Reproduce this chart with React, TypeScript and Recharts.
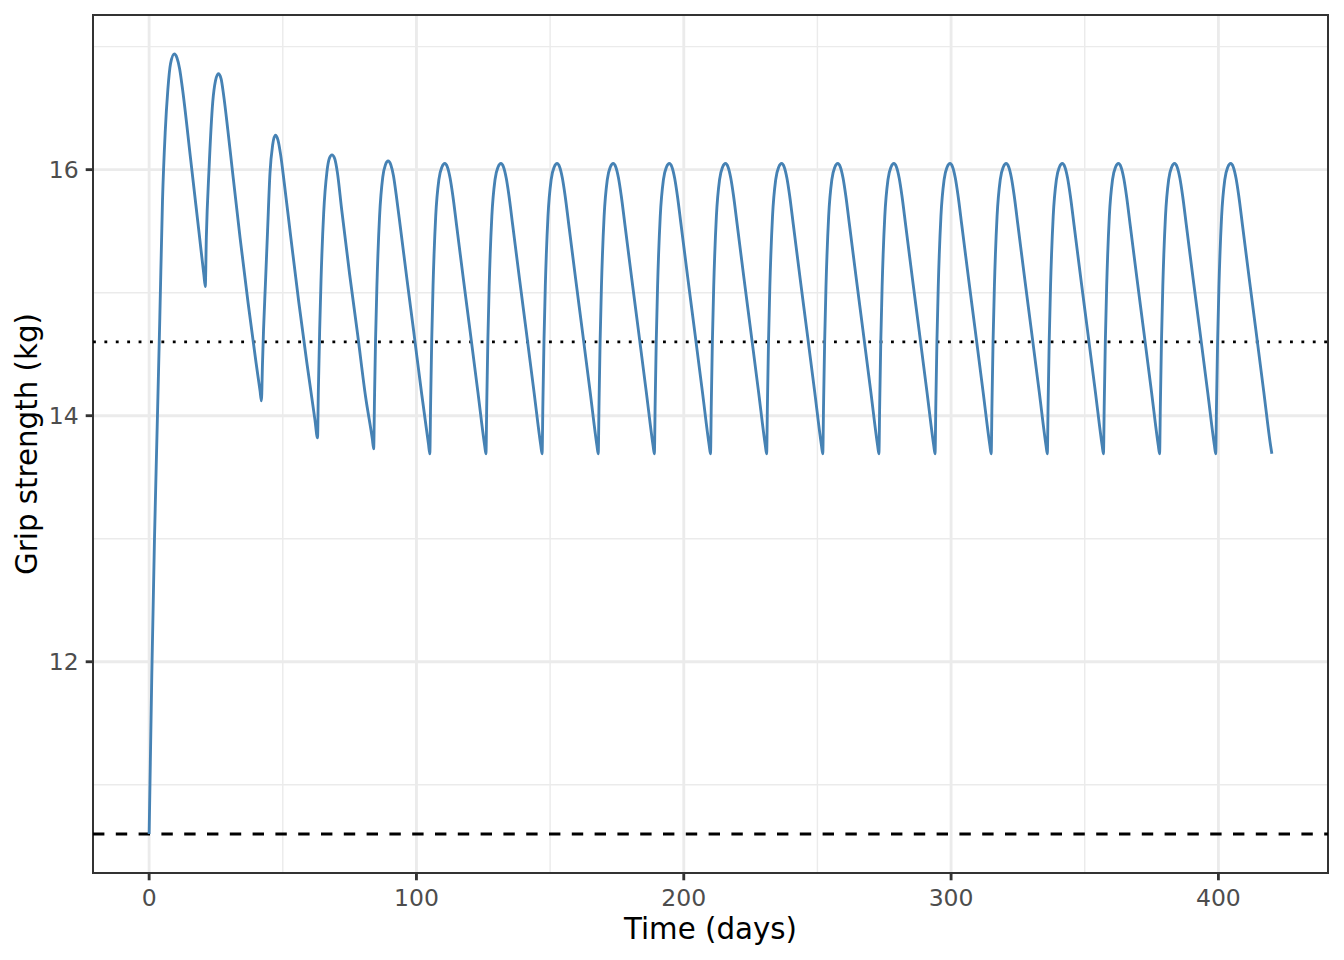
import { LineChart, Line, XAxis, YAxis, CartesianGrid, ReferenceLine, ReferenceArea, Label } from "recharts";

// Grip strength over time, one dose every 21 days
const timeDays = [
  0, 1, 2, 3, 4, 5, 6, 7, 8, 9.4, 10.4, 11.4, 12.4, 15.5, 18.5, 20.5,
  21, 21.4, 22.4, 23.8, 24.8, 25.9, 26.9, 27.9, 29.4, 31, 34, 37, 40, 41.5,
  42, 42.4, 42.8, 43.5, 44.3, 45.2, 46.2, 47.2, 48.2, 49.2, 50.5, 53, 56, 59, 62,
  63, 63.3, 63.8, 64.3, 65.3, 66.5, 67.4, 68.4, 69.4, 70.4, 72, 75, 78, 81, 83.5,
  84, 84.3, 84.7, 85.2, 86.2, 87.4, 88.4, 89.4, 90.4, 91.4, 92.4, 94, 96.5, 99, 102, 104.5,
  105, 105.3, 105.7, 106.2, 107.2, 108.4, 109.5, 110.6, 111.6, 112.6, 113.6, 115, 117.5, 120, 123, 125.5,
  126, 126.3, 126.7, 127.2, 128.2, 129.4, 130.5, 131.6, 132.6, 133.6, 134.6, 136, 138.5, 141, 144, 146.5,
  147, 147.3, 147.7, 148.2, 149.2, 150.4, 151.5, 152.6, 153.6, 154.6, 155.6, 157, 159.5, 162, 165, 167.5,
  168, 168.3, 168.7, 169.2, 170.2, 171.4, 172.5, 173.6, 174.6, 175.6, 176.6, 178, 180.5, 183, 186, 188.5,
  189, 189.3, 189.7, 190.2, 191.2, 192.4, 193.5, 194.6, 195.6, 196.6, 197.6, 199, 201.5, 204, 207, 209.5,
  210, 210.3, 210.7, 211.2, 212.2, 213.4, 214.5, 215.6, 216.6, 217.6, 218.6, 220, 222.5, 225, 228, 230.5,
  231, 231.3, 231.7, 232.2, 233.2, 234.4, 235.5, 236.6, 237.6, 238.6, 239.6, 241, 243.5, 246, 249, 251.5,
  252, 252.3, 252.7, 253.2, 254.2, 255.4, 256.5, 257.6, 258.6, 259.6, 260.6, 262, 264.5, 267, 270, 272.5,
  273, 273.3, 273.7, 274.2, 275.2, 276.4, 277.5, 278.6, 279.6, 280.6, 281.6, 283, 285.5, 288, 291, 293.5,
  294, 294.3, 294.7, 295.2, 296.2, 297.4, 298.5, 299.6, 300.6, 301.6, 302.6, 304, 306.5, 309, 312, 314.5,
  315, 315.3, 315.7, 316.2, 317.2, 318.4, 319.5, 320.6, 321.6, 322.6, 323.6, 325, 327.5, 330, 333, 335.5,
  336, 336.3, 336.7, 337.2, 338.2, 339.4, 340.5, 341.6, 342.6, 343.6, 344.6, 346, 348.5, 351, 354, 356.5,
  357, 357.3, 357.7, 358.2, 359.2, 360.4, 361.5, 362.6, 363.6, 364.6, 365.6, 367, 369.5, 372, 375, 377.5,
  378, 378.3, 378.7, 379.2, 380.2, 381.4, 382.5, 383.6, 384.6, 385.6, 386.6, 388, 390.5, 393, 396, 398.5,
  399, 399.3, 399.7, 400.2, 401.2, 402.4, 403.5, 404.6, 405.6, 406.6, 407.6, 409, 411.5, 414, 417, 419.5,
  420,
];

const gripKg = [
  10.6, 11.9, 13.0, 13.9, 14.8, 15.75, 16.3, 16.65, 16.86, 16.94, 16.91, 16.82, 16.67, 16.09, 15.52, 15.14,
  15.05, 15.45, 16.0, 16.55, 16.72, 16.78, 16.74, 16.6, 16.33, 16.02, 15.45, 14.92, 14.43, 14.2,
  14.12, 14.42, 14.7, 15.07, 15.5, 15.97, 16.2, 16.28, 16.24, 16.12, 15.9, 15.45, 14.92, 14.43, 13.97,
  13.82, 14.2, 14.7, 15.1, 15.65, 15.98, 16.09, 16.12, 16.09, 15.98, 15.68, 15.15, 14.66, 14.15, 13.81,
  13.73, 14.13, 14.62, 15.05, 15.62, 15.94, 16.04, 16.07, 16.04, 15.95, 15.8, 15.53, 15.1, 14.68, 14.17, 13.77,
  13.69, 14.1, 14.6, 15.05, 15.62, 15.92, 16.02, 16.05, 16.02, 15.93, 15.79, 15.55, 15.12, 14.7, 14.19, 13.76,
  13.69, 14.1, 14.6, 15.05, 15.62, 15.92, 16.02, 16.05, 16.02, 15.93, 15.79, 15.55, 15.12, 14.7, 14.19, 13.76,
  13.69, 14.1, 14.6, 15.05, 15.62, 15.92, 16.02, 16.05, 16.02, 15.93, 15.79, 15.55, 15.12, 14.7, 14.19, 13.76,
  13.69, 14.1, 14.6, 15.05, 15.62, 15.92, 16.02, 16.05, 16.02, 15.93, 15.79, 15.55, 15.12, 14.7, 14.19, 13.76,
  13.69, 14.1, 14.6, 15.05, 15.62, 15.92, 16.02, 16.05, 16.02, 15.93, 15.79, 15.55, 15.12, 14.7, 14.19, 13.76,
  13.69, 14.1, 14.6, 15.05, 15.62, 15.92, 16.02, 16.05, 16.02, 15.93, 15.79, 15.55, 15.12, 14.7, 14.19, 13.76,
  13.69, 14.1, 14.6, 15.05, 15.62, 15.92, 16.02, 16.05, 16.02, 15.93, 15.79, 15.55, 15.12, 14.7, 14.19, 13.76,
  13.69, 14.1, 14.6, 15.05, 15.62, 15.92, 16.02, 16.05, 16.02, 15.93, 15.79, 15.55, 15.12, 14.7, 14.19, 13.76,
  13.69, 14.1, 14.6, 15.05, 15.62, 15.92, 16.02, 16.05, 16.02, 15.93, 15.79, 15.55, 15.12, 14.7, 14.19, 13.76,
  13.69, 14.1, 14.6, 15.05, 15.62, 15.92, 16.02, 16.05, 16.02, 15.93, 15.79, 15.55, 15.12, 14.7, 14.19, 13.76,
  13.69, 14.1, 14.6, 15.05, 15.62, 15.92, 16.02, 16.05, 16.02, 15.93, 15.79, 15.55, 15.12, 14.7, 14.19, 13.76,
  13.69, 14.1, 14.6, 15.05, 15.62, 15.92, 16.02, 16.05, 16.02, 15.93, 15.79, 15.55, 15.12, 14.7, 14.19, 13.76,
  13.69, 14.1, 14.6, 15.05, 15.62, 15.92, 16.02, 16.05, 16.02, 15.93, 15.79, 15.55, 15.12, 14.7, 14.19, 13.76,
  13.69, 14.1, 14.6, 15.05, 15.62, 15.92, 16.02, 16.05, 16.02, 15.93, 15.79, 15.55, 15.12, 14.7, 14.19, 13.76,
  13.69, 14.1, 14.6, 15.05, 15.62, 15.92, 16.02, 16.05, 16.02, 15.93, 15.79, 15.55, 15.12, 14.7, 14.19, 13.76,
  13.69,
];

const xTicks = [0, 100, 200, 300, 400];
const xMinor = [50, 150, 250, 350];
const yTicks = [12, 14, 16];
const yMinor = [11, 13, 15, 17];

const baselineKg = 10.6; // dashed
const thresholdKg = 14.6; // dotted

const X_DOMAIN: [number, number] = [-21, 441];
const Y_DOMAIN: [number, number] = [10.283, 17.257];

const data = timeDays.map((t, i) => ({ t, grip: gripKg[i] }));

const FONT = "DejaVu Sans";
const tickStyle = { fill: "#4D4D4D", fontSize: 23.5, fontFamily: FONT };
const tickLineStyle = { stroke: "#333333", strokeWidth: 2.85 };

const App = () => {
  return (
    <div style={{ position: "absolute", left: 0, top: 0, width: 1344, height: 960, background: "#fff" }}>
      <LineChart width={1344} height={960} data={data} margin={{ top: 15, right: 16, left: 0, bottom: 0 }}>
        {/* minor then major grid, ggplot theme_bw style */}
        <CartesianGrid stroke="#EBEBEB" strokeWidth={1.42} horizontalValues={yMinor} verticalValues={xMinor} />
        <CartesianGrid stroke="#EBEBEB" strokeWidth={2.85} horizontalValues={yTicks} verticalValues={xTicks} />
        <XAxis
          dataKey="t"
          type="number"
          domain={X_DOMAIN}
          ticks={xTicks}
          interval={0}
          allowDataOverflow
          height={87}
          axisLine={false}
          tickSize={7.3}
          tickMargin={9}
          tick={tickStyle}
          tickLine={tickLineStyle}
        >
          <Label
            content={({ viewBox }: any) => (
              <text
                x={viewBox.x + viewBox.width / 2}
                y={viewBox.y + 66}
                textAnchor="middle"
                fontSize={29.3}
                fontFamily={FONT}
                fill="#000"
              >
                Time (days)
              </text>
            )}
          />
        </XAxis>
        <YAxis
          type="number"
          domain={Y_DOMAIN}
          ticks={yTicks}
          interval={0}
          allowDataOverflow
          width={93}
          axisLine={false}
          tickSize={7.3}
          tickMargin={7}
          tick={tickStyle}
          tickLine={tickLineStyle}
        >
          <Label
            content={({ viewBox }: any) => {
              const cx = viewBox.x + 36.5;
              const cy = viewBox.y + viewBox.height / 2;
              return (
                <text
                  x={cx}
                  y={cy}
                  textAnchor="middle"
                  transform={`rotate(-90, ${cx}, ${cy})`}
                  fontSize={29.3}
                  fontFamily={FONT}
                  fill="#000"
                >
                  Grip strength (kg)
                </text>
              );
            }}
          />
        </YAxis>
        <ReferenceArea
          x1={X_DOMAIN[0]}
          x2={X_DOMAIN[1]}
          y1={Y_DOMAIN[0]}
          y2={Y_DOMAIN[1]}
          fill="none"
          fillOpacity={0}
          stroke="#333333"
          strokeWidth={2}
          ifOverflow="visible"
        />
        <ReferenceLine y={baselineKg} stroke="#000" strokeWidth={2.85} strokeDasharray="11.4 11.4" />
        <ReferenceLine y={thresholdKg} stroke="#000" strokeWidth={2.85} strokeDasharray="2.85 8.55" />
        <Line
          type="monotone"
          dataKey="grip"
          stroke="#4682B4"
          strokeWidth={2.85}
          dot={false}
          activeDot={false}
          isAnimationActive={false}
        />
      </LineChart>
    </div>
  );
};

export default App;
